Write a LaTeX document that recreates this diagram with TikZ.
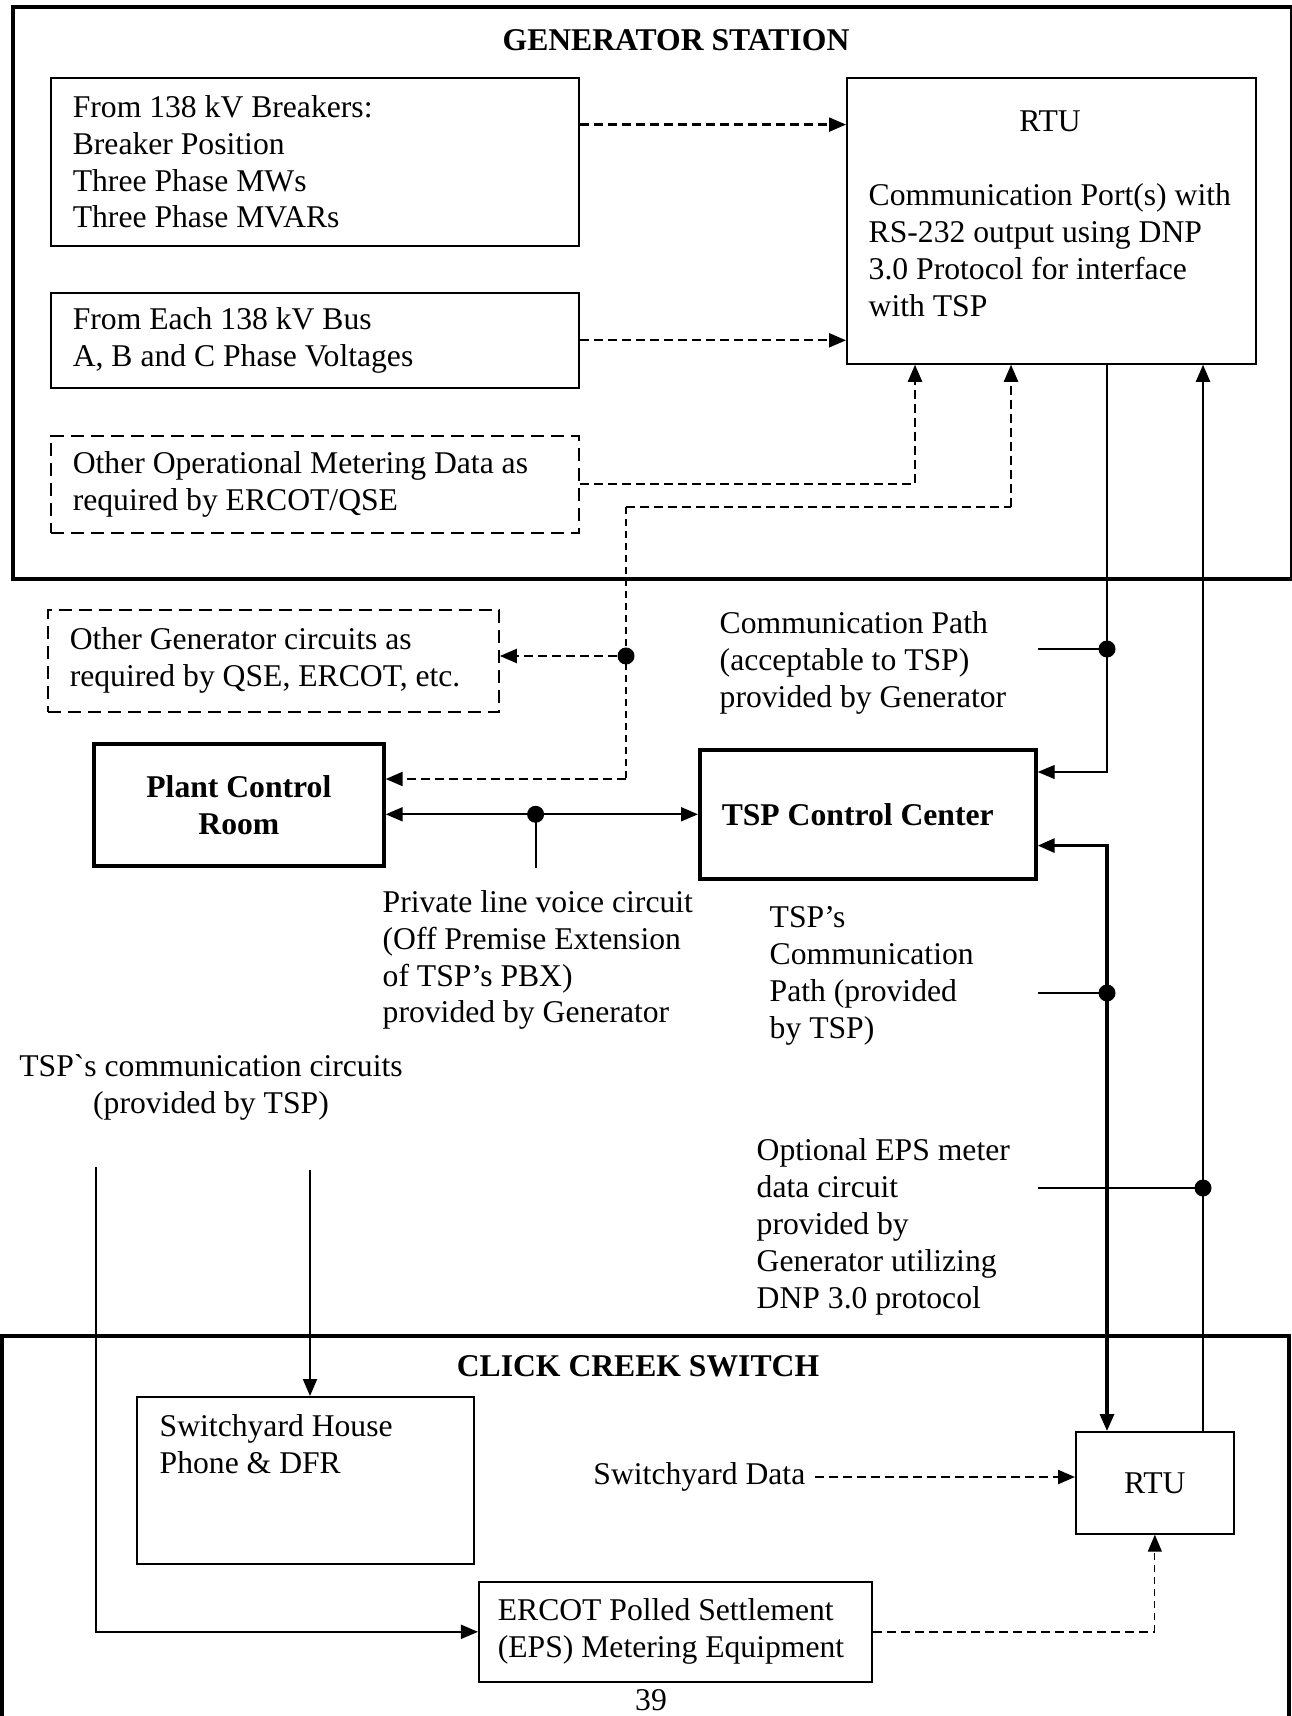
\documentclass[tikz,border=0pt]{standalone}
\usepackage{fontspec}
\setmainfont{Liberation Serif}
\newfontfamily\rawserif{Liberation Serif}[Ligatures=TeXOff]
\usepackage{tikz}
\usetikzlibrary{arrows.meta,calc,positioning}

\begin{document}
\begin{tikzpicture}[x=0.01cm,y=-0.01cm,font=\fontsize{9pt}{10.5pt}\selectfont,>={Triangle[length=0.17cm,width=0.14cm]}]
    \tikzstyle{frame}=[draw, line width=1pt]
    \tikzstyle{box}=[draw, line width=0.45pt, anchor=north west, align=flush left, inner xsep=0.22cm, inner ysep=0pt]
    \tikzstyle{dbox}=[box, dash pattern=on 0.13cm off 0.07cm]
    \tikzstyle{bbox}=[draw, line width=1pt, anchor=north west, align=center, font=\fontsize{9pt}{10.5pt}\selectfont\bfseries]
    \tikzstyle{lbl}=[inner sep=0pt, align=left]
    \tikzstyle{title}=[inner sep=0pt, font=\fontsize{9pt}{10.5pt}\selectfont\bfseries]
    \tikzstyle{wire}=[line width=0.55pt]
    \tikzstyle{dsh}=[line width=0.65pt, dash pattern=on 0.09cm off 0.05cm]
    \tikzstyle{tdsh}=[line width=0.35pt, dash pattern=on 0.07cm off 0.05cm]
    \tikzstyle{dot}=[circle, fill, inner sep=0pt, minimum size=0.17cm]

    \useasboundingbox (0,0) rectangle (1291,1716);

    % generator station
    \node[frame, anchor=north west, minimum width=12.78cm, minimum height=5.72cm] (gen) at (11,5) {};
    \node[title] (gentitle) at (676,40) {GENERATOR STATION};

    \node[box, text width=4.84cm, minimum height=1.68cm] (brk) at (50,77) {From 138 kV Breakers:\\Breaker Position\\Three Phase MWs\\Three Phase MVARs};
    \node[box, text width=4.84cm, minimum height=0.95cm] (bus) at (50,292) {From Each 138 kV Bus\\A, B and C Phase Voltages};
    \node[dbox, text width=4.84cm, minimum height=0.97cm] (opm) at (50,435) {Other Operational Metering Data as\\required by ERCOT/QSE};

    \node[box, minimum width=4.09cm, minimum height=2.86cm] (rtuG) at (846,77) {};
    \node[lbl] (rtuGname) at (1050,121) {RTU};
    \node[lbl, anchor=west] (rtuGtext) at (868,250) {Communication Port(s) with\\RS-232 output using DNP\\3.0 Protocol for interface\\with TSP};

    % middle part
    \node[dbox, text width=4.07cm, minimum height=1.02cm] (ogc) at (47,609) {Other Generator circuits as\\required by QSE, ERCOT, etc.};
    \node[bbox, minimum width=2.90cm, minimum height=1.22cm] (pcr) at (92,742) {Plant Control\\Room};
    \node[bbox, minimum width=3.36cm, minimum height=1.29cm, text width=2.92cm, align=flush left, inner xsep=0.22cm] (tsp) at (698,748) {TSP Control Center};

    \node[lbl, anchor=west] (voicetxt) at (382,960) {Private line voice circuit\\(Off Premise Extension\\of TSP's PBX)\\provided by Generator};
    \node[lbl, anchor=west] (cptxt) at (719,663) {Communication Path\\(acceptable to TSP)\\provided by Generator};
    \node[lbl, anchor=west] (tcptxt) at (769,976) {TSP's\\Communication\\Path (provided\\by TSP)};
    \node[lbl, anchor=west] (epstxt) at (756,1227) {Optional EPS meter\\data circuit\\provided by\\Generator utilizing\\DNP 3.0 protocol};
    \node[lbl, align=center] (tsctxt) at (211,1087) {TSP{\rawserif`}s communication circuits\\(provided by TSP)};

    % click creek switch
    \draw[frame] (2,1720) |- (1289,1336) -- (1289,1720);
    \node[title] (ccs) at (638,1366) {CLICK CREEK SWITCH};
    \node[box, minimum width=3.37cm, minimum height=1.67cm] (shp) at (136,1396) {};
    \node[lbl, anchor=west] (shptext) at (159,1444) {Switchyard House\\Phone \& DFR};
    \node[box, minimum width=1.58cm, minimum height=1.02cm, align=center] (rtuS) at (1075,1431) {RTU};
    \node[box, text width=3.55cm, inner xsep=0.19cm, minimum height=1.0cm] (eps) at (478,1581) {ERCOT Polled Settlement\\(EPS) Metering Equipment};
    \node[lbl, anchor=east] (sdtxt) at (806,1477) {Switchyard Data};
    \node[lbl] (pgno) at (651,1700) {39};

    % data into the station RTU
    \draw[dsh,->] (brk.8) -- (brk.8 -| rtuG.west);
    \draw[dsh,->] (bus.east) -- (bus.east -| rtuG.west);
    \draw[dsh,->] (opm.east) -| ($(rtuG.south west)+(69,0)$);

    % metering bus to plant control room
    \node[dot] (jg) at (626,656) {};
    \coordinate (jb) at (1011,507);
    \draw[tdsh] (jb -| jg) -- ($(pcr.north east -| jg)+(0,37)$);
    \draw[dsh] (jb -| jg) -- (jb);
    \draw[dsh,->] (jb) -- (jb |- rtuG.south);
    \draw[dsh,->] (jg) -- (jg -| ogc.east);
    \draw[dsh,->] ($(pcr.north east -| jg)+(0,37)$) -- ($(pcr.north east)+(0,37)$);

    % voice circuit
    \node[dot] (vj) at ($(pcr.east |- tsp.west)!0.48!(tsp.west)$) {};
    \draw[wire,<->] (pcr.east |- tsp.west) -- (tsp.west);
    \draw[wire] (vj.center) -- (vj.center |- pcr.south);

    % communication path
    \node[dot] (cj) at (1107,649) {};
    \draw[line width=0.35pt,->] (rtuG.south -| cj) -- (cj.center) |- ($(tsp.north east)+(0,24)$);
    \draw[line width=0.45pt] (cj.center) -- (cj -| tsp.east);

    % TSP path
    \node[dot] (tj) at (1107,993) {};
    \draw[line width=0.9pt,<->] ($(tsp.south east)+(0,-35)$) -| (rtuS.north -| tj);
    \draw[wire] (tj.center) -- (tj -| tsp.east);

    % EPS data circuit
    \node[dot] (ej) at (1203,1188) {};
    \draw[line width=0.6pt,->] (rtuS.north -| ej) -- (rtuG.south -| ej);
    \draw[wire] (ej.center) -- (ej -| tsp.east);

    % TSP circuits into the switch
    \coordinate (tc1) at (96,1167);
    \coordinate (tc2) at (310,1170);
    \draw[wire,->] (tc1) |- (eps.west);
    \draw[wire,->] (tc2) -- (tc2 |- shp.north);

    \draw[dsh,->] ([xshift=0.09cm]sdtxt.east) -- (sdtxt.east -| rtuS.west);
    \draw[dsh] (eps.east) -- (eps.east -| rtuS.south);
    \draw[tdsh,->] (eps.east -| rtuS.south) -- (rtuS.south);

\end{tikzpicture}
\end{document}
